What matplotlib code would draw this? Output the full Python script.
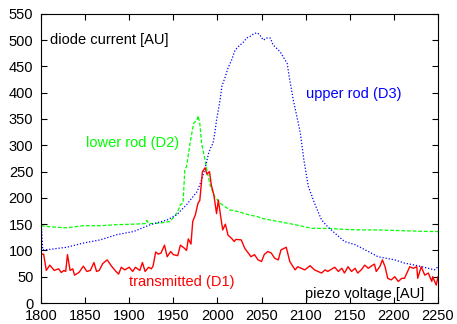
import numpy as np
import matplotlib
matplotlib.use('Agg')
import matplotlib.pyplot as plt

plt.rcParams['font.family'] = ['Liberation Sans', 'DejaVu Sans']

# transmitted (D1)
x_d1 = [1800, 1803, 1806, 1810, 1815, 1820, 1823, 1826, 1828, 1830, 1833, 1836,
        1838, 1843, 1848, 1852, 1856, 1860, 1863, 1866, 1870, 1875, 1880, 1885,
        1888, 1891, 1895, 1900, 1904, 1907, 1912, 1915, 1918, 1922, 1925, 1927,
        1930, 1933, 1936, 1940, 1943, 1947, 1950, 1955, 1958, 1962, 1965, 1967,
        1970, 1972, 1975, 1978, 1980, 1983, 1986, 1988, 1991, 1993, 1996, 1999,
        2001, 2004, 2006, 2009, 2012, 2016, 2019, 2021, 2027, 2031, 2035, 2038,
        2042, 2046, 2050, 2053, 2057, 2061, 2065, 2069, 2072, 2078, 2082, 2088,
        2091, 2099, 2105, 2110, 2118, 2122, 2125, 2133, 2137, 2141, 2144, 2148,
        2152, 2156, 2159, 2163, 2167, 2171, 2175, 2178, 2180, 2184, 2187, 2190,
        2193, 2197, 2201, 2205, 2209, 2212, 2218, 2222, 2226, 2227, 2231, 2235,
        2239, 2243, 2244, 2248, 2250]
y_d1 = [93, 93, 62, 72, 62, 65, 58, 62, 60, 92, 62, 65,
        53, 58, 70, 60, 62, 77, 60, 62, 75, 82, 70, 60,
        55, 68, 63, 68, 60, 68, 62, 77, 60, 68, 65, 70,
        97, 93, 95, 110, 88, 98, 92, 90, 110, 105, 100, 122,
        112, 155, 168, 190, 195, 250, 257, 245, 250, 225, 205, 170,
        196, 161, 139, 150, 129, 123, 117, 121, 120, 104, 95, 88,
        92, 82, 79, 92, 98, 95, 85, 82, 101, 106, 79, 63,
        69, 63, 71, 63, 57, 63, 60, 68, 60, 66, 57, 69,
        60, 66, 57, 63, 72, 66, 71, 74, 60, 69, 82, 69,
        47, 44, 50, 41, 47, 47, 69, 66, 69, 47, 69, 53,
        57, 41, 50, 34, 50]

# lower rod (D2)
x_d2 = [1800, 1810, 1829, 1848, 1867, 1886, 1905, 1918, 1920, 1922, 1935, 1946,
        1952, 1956, 1958, 1961, 1963, 1965, 1969, 1973, 1977, 1978, 1980, 1982,
        1986, 1988, 1992, 1997, 2003, 2014, 2023, 2035, 2046, 2050, 2069, 2088,
        2107, 2125, 2144, 2163, 2182, 2201, 2220, 2239, 2250]
y_d2 = [147, 145, 143, 147, 147, 149, 150, 151, 157, 151, 152, 155,
        166, 178, 187, 190, 253, 260, 304, 342, 348, 356, 342, 304,
        272, 253, 222, 202, 190, 177, 174, 168, 164, 161, 155, 149,
        142, 142, 140, 139, 139, 138, 137, 136, 136]

# upper rod (D3)
x_d3 = [1800, 1802, 1810, 1829, 1848, 1867, 1886, 1905, 1924, 1943, 1954, 1965,
        1977, 1982, 1986, 1990, 1993, 1995, 1997, 1999, 2003, 2005, 2009, 2012,
        2016, 2020, 2024, 2028, 2030, 2033, 2037, 2041, 2045, 2048, 2052, 2056,
        2060, 2063, 2071, 2079, 2082, 2086, 2090, 2094, 2098, 2103, 2110, 2118,
        2125, 2133, 2144, 2156, 2171, 2182, 2201, 2212, 2224, 2239, 2246, 2250]
y_d3 = [160, 101, 102, 106, 114, 120, 130, 136, 149, 158, 168, 187,
        212, 234, 256, 285, 298, 304, 323, 348, 386, 412, 431, 447,
        462, 481, 488, 494, 497, 504, 507, 512, 514, 510, 500, 504,
        504, 491, 478, 456, 424, 386, 355, 323, 272, 222, 190, 158,
        145, 133, 117, 111, 98, 88, 82, 76, 72, 66, 63, 69]

fig = plt.figure(figsize=(4.57, 3.24), dpi=100)
ax = fig.add_axes([0.0897, 0.0648, 0.8687, 0.8925])

ax.plot(x_d2, y_d2, color='#00ff00', lw=0.9, ls=(0, (3, 1.5)))
ax.plot(x_d3, y_d3, color='#0000ff', lw=0.9, ls=(0, (1, 1.5)))
ax.plot(x_d1, y_d1, color='#ff0000', lw=1.0)

ax.set_xlim(1800, 2250)
ax.set_ylim(0, 550)
ax.set_xticks(np.arange(1800, 2251, 50))
ax.set_yticks(np.arange(0, 551, 50))
ax.tick_params(direction='in', top=True, right=True, labelsize=10.5, length=4)
ax.tick_params(axis='x', pad=4.5)
ax.tick_params(axis='y', pad=5.5)

fs = 10.5
ax.text(1810, 500, 'diode current [AU]', fontsize=fs, va='center')
ax.text(1851, 305, 'lower rod (D2)', fontsize=fs, va='center', color='#00ff00')
ax.text(2100, 397, 'upper rod (D3)', fontsize=fs, va='center', color='#0000ff')
ax.text(1900, 40, 'transmitted (D1)', fontsize=fs, va='center', color='#ff0000')
ax.text(2234, 18, 'piezo voltage [AU]', fontsize=fs, va='center', ha='right')

fig.savefig('out.png', dpi=100)
